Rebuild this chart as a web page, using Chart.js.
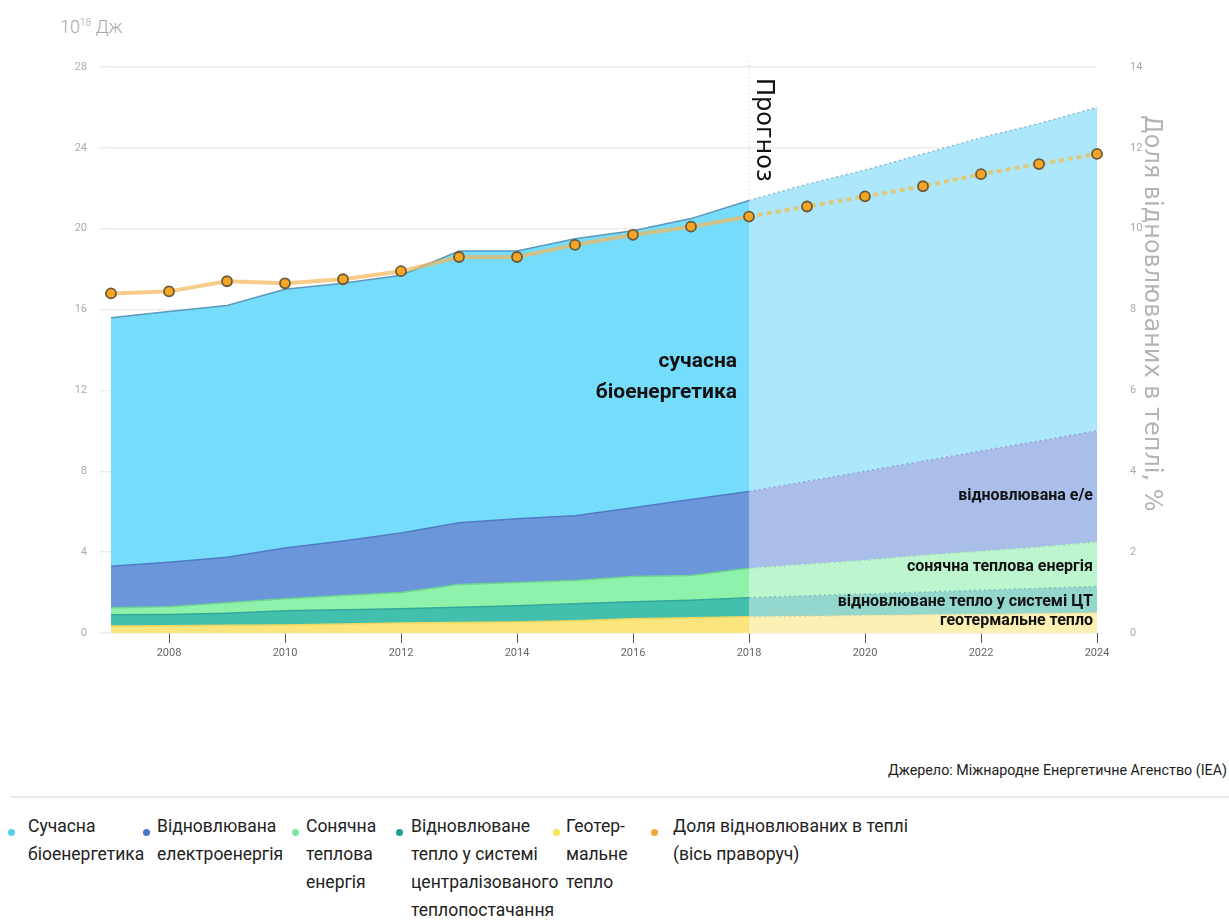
<!DOCTYPE html>
<html>
<head>
<meta charset="utf-8">
<script src="https://cdn.jsdelivr.net/npm/chart.js@4.4.1/dist/chart.umd.min.js"></script>
<style>
body{margin:0;background:#fff;font-family:Roboto,sans-serif;width:1229px;height:921px;position:relative;overflow:hidden}
#wrap{position:absolute;left:0;top:0;width:1229px;height:690px}
#unit{position:absolute;left:60px;top:16px;font-size:18px;font-weight:300;color:#a8a8a8}
#unit sup{font-size:10px}
#source{position:absolute;right:2px;top:762px;font-size:14.3px;color:#222}
#rule{position:absolute;left:10px;right:0;top:796px;height:2px;background:#ebebeb}
.item{position:absolute;top:812px;font-size:17.5px;line-height:28px;color:#222;white-space:nowrap}
.dot{position:absolute;width:7px;height:7px;border-radius:50%;top:17px}
</style>
</head>
<body>
<div id="unit">10<sup>18</sup> Дж</div>
<div id="wrap"><canvas id="heatChart"></canvas></div>
<div id="source">Джерело: Міжнародне Енергетичне Агенство (IEA)</div>
<div id="rule"></div>
<div id="legend"></div>
<script>
// years and values (10^18 J, stacked from bottom)
const years = ["2007","2008","2009","2010","2011","2012","2013","2014","2015","2016","2017","2018","2019","2020","2021","2022","2023","2024"];
const forecastStart = 11; // 2018

const geothermal = [0.35,0.36,0.38,0.40,0.45,0.50,0.52,0.55,0.60,0.70,0.75,0.80,0.83,0.87,0.90,0.93,0.97,1.00];
const districtHeat = [0.55,0.56,0.60,0.70,0.70,0.70,0.76,0.80,0.85,0.85,0.87,0.95,1.01,1.06,1.12,1.19,1.24,1.30];
const solarHeat = [0.35,0.38,0.52,0.60,0.70,0.80,1.12,1.15,1.15,1.25,1.23,1.45,1.56,1.67,1.83,1.93,2.04,2.20];
const renewElectricity = [2.05,2.20,2.25,2.50,2.70,2.95,3.05,3.15,3.20,3.40,3.75,3.80,4.10,4.40,4.65,4.95,5.25,5.50];
const modernBio = [12.3,12.4,12.45,12.8,12.75,12.75,13.45,13.25,13.7,13.7,13.9,14.4,14.7,14.9,15.2,15.5,15.7,16.0];

// share of renewables in heat, % (right axis)
const renewShare = [8.4,8.45,8.7,8.65,8.75,8.95,9.3,9.3,9.6,9.85,10.05,10.3,10.55,10.8,11.05,11.35,11.6,11.85];

const leftTicks = [0,4,8,12,16,20,24,28];
const rightTicks = [0,2,4,6,8,10,12,14];

const legendNames = [
  ["Сучасна","біоенергетика"],
  ["Відновлювана","електроенергія"],
  ["Сонячна","теплова","енергія"],
  ["Відновлюване","тепло у системі","централізованого","теплопостачання"],
  ["Геотер-","мальне","тепло"],
  ["Доля відновлюваних в теплі","(вісь праворуч)"]
];
const legendColors = ["#5ccbf0","#4b74c6","#7fe8a2","#1d9e8e","#f7e65a","#f5a733"];
const legendLeft = [12,147,296,400,557,655];
const legendTextGap = [16,10,10,11,9,18];

function area(label, data, fillCol, foreFill, lineCol, foreLine, fillMode){
  return {
    type:"line",
    label:label,
    data:data,
    yAxisID:"y",
    fill:fillMode,
    backgroundColor:fillCol,
    borderColor:lineCol,
    borderWidth:1.5,
    pointRadius:0,
    tension:0,
    order:2,
    segment:{
      backgroundColor:c => c.p0DataIndex >= forecastStart ? foreFill : undefined,
      borderColor:c => c.p0DataIndex >= forecastStart ? foreLine : undefined,
      borderDash:c => c.p0DataIndex >= forecastStart ? [2,3] : undefined
    }
  };
}

const labelsPlugin = {
  id:"labelsPlugin",
  beforeDatasetsDraw(chart){
    const {ctx, chartArea, scales} = chart;
    const x = scales.x.getPixelForValue(forecastStart);
    ctx.save();
    ctx.strokeStyle = "#c8c8c8";
    ctx.lineWidth = 1;
    ctx.setLineDash([1,3]);
    ctx.beginPath();
    ctx.moveTo(x, chartArea.top - 6);
    ctx.lineTo(x, chartArea.bottom);
    ctx.stroke();
    ctx.restore();
  },
  afterDatasetsDraw(chart){
    const {ctx, chartArea, scales} = chart;
    const xf = scales.x.getPixelForValue(forecastStart);
    const y = scales.y;
    ctx.save();
    ctx.fillStyle = "#111";
    ctx.textBaseline = "middle";
    ctx.textAlign = "right";
    ctx.font = "bold 21px Roboto";
    ctx.fillText("сучасна", xf - 12, y.getPixelForValue(13.4));
    ctx.fillText("біоенергетика", xf - 12, y.getPixelForValue(11.9));
    ctx.font = "bold 16px Roboto";
    const r = chartArea.right - 4;
    ctx.fillText("відновлювана е/е", r, y.getPixelForValue(6.8));
    ctx.fillText("сонячна теплова енергія", r, y.getPixelForValue(3.27));
    ctx.fillText("відновлюване тепло у системі ЦТ", r, y.getPixelForValue(1.53));
    ctx.fillText("геотермальне тепло", r, y.getPixelForValue(0.6));

    // forecast label
    ctx.translate(xf + 14, chartArea.top + 11);
    ctx.rotate(Math.PI / 2);
    ctx.textAlign = "left";
    ctx.font = "24px 'DejaVu Sans'";
    ctx.fillStyle = "#111";
    ctx.fillText("Прогноз", 0, 0);
    ctx.restore();

    // right axis title
    ctx.save();
    ctx.translate(chartArea.right + 54, chartArea.top + 48);
    ctx.rotate(Math.PI / 2);
    ctx.textAlign = "left";
    ctx.textBaseline = "middle";
    ctx.font = "24px 'DejaVu Sans'";
    ctx.fillStyle = "#b4b4b4";
    ctx.fillText("Доля відновлюваних в теплі, %", 0, 0);
    ctx.restore();
  }
};

new Chart(
document.getElementById("heatChart"),
{
type:"line",
data:{
  labels:years,
  datasets:[
    area("геотермальне тепло", geothermal, "#fbe57c", "#fdf0b4", "#f0d860", "#e6d890", "origin"),
    area("відновлюване тепло у системі ЦТ", districtHeat, "#43bfae", "#93d7cd", "#35a898", "#7cc4ba", "-1"),
    area("сонячна теплова енергія", solarHeat, "#8ef2aa", "#bcf5ce", "#6ed690", "#9bdcb2", "-1"),
    area("відновлювана е/е", renewElectricity, "#6c96da", "#a9bfea", "#4f7cc4", "#8aa6d8", "-1"),
    area("сучасна біоенергетика", modernBio, "#76dcfc", "#ade7fb", "#5b98bc", "#8fb8d0", "-1"),
    {
      type:"line",
      label:"Доля відновлюваних в теплі",
      data:renewShare,
      yAxisID:"y1",
      fill:false,
      borderColor:"rgba(243,182,90,0.7)",
      borderWidth:4,
      pointRadius:5,
      pointBackgroundColor:"#f6a623",
      pointBorderColor:"#6a5a3c",
      pointBorderWidth:1.8,
      tension:0,
      order:1,
      segment:{
        borderDash:c => c.p0DataIndex >= forecastStart ? [5,4] : undefined,
        borderColor:c => c.p0DataIndex >= forecastStart ? "rgba(232,196,100,0.85)" : undefined
      }
    }
  ]
},
options:{
  responsive:true,
  maintainAspectRatio:false,
  animation:false,
  layout:{padding:{top:67,left:0,right:0,bottom:0}},
  plugins:{legend:{display:false},tooltip:{enabled:false}},
  scales:{
    x:{
      grid:{drawOnChartArea:false,drawTicks:true,tickLength:10,
        tickColor:c => c.index % 2 ? "#555" : "rgba(0,0,0,0)"},
      border:{display:false},
      ticks:{autoSkip:false,maxRotation:0,padding:4,color:"#666",font:{family:"Roboto",size:11},
        callback:(v,i) => i % 2 ? years[i] : ""},
      afterFit:s => { s.height = 57; }
    },
    y:{
      position:"left",
      stacked:true,
      min:0,max:28,
      afterBuildTicks:s => { s.ticks = leftTicks.map(v => ({value:v})); },
      grid:{color:"#ececec",lineWidth:1.5,drawTicks:true,tickLength:12},
      border:{display:false},
      ticks:{padding:12,color:"#aaa",font:{family:"Roboto",size:11}},
      afterFit:s => { s.width = 111; }
    },
    y1:{
      position:"right",
      min:0,max:14,
      afterBuildTicks:s => { s.ticks = rightTicks.map(v => ({value:v})); },
      grid:{display:false},
      border:{display:false},
      ticks:{padding:25,color:"#aaa",font:{family:"Roboto",size:11}},
      afterFit:s => { s.width = 132; }
    }
  }
},
plugins:[labelsPlugin]
}
);

// legend
const legend = document.getElementById("legend");
legendNames.forEach((lines, i) => {
  const item = document.createElement("div");
  item.className = "item";
  item.style.left = legendLeft[i] + "px";
  const dot = document.createElement("span");
  dot.className = "dot";
  dot.style.left = "-4px";
  dot.style.background = legendColors[i];
  const txt = document.createElement("div");
  txt.style.marginLeft = legendTextGap[i] + "px";
  txt.innerHTML = lines.join("<br>");
  item.appendChild(dot);
  item.appendChild(txt);
  legend.appendChild(item);
});
</script>
</body>
</html>
